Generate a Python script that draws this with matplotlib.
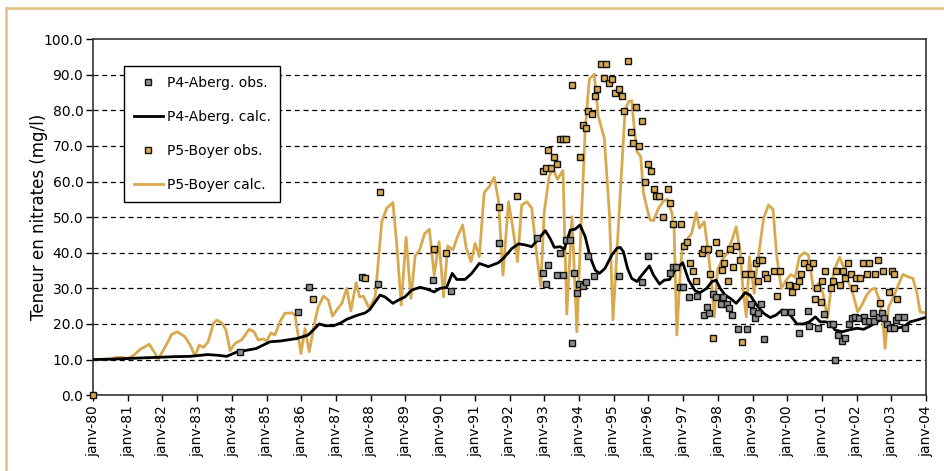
import numpy as np
import matplotlib.pyplot as plt
from matplotlib.lines import Line2D

# -----------data (decimal years, mg/l)
p4_calc_t = [1980.0, 1980.5, 1981.0, 1981.5, 1981.83, 1982.3, 1982.8, 1983.3, 1983.6, 1983.85,
             1984.14, 1984.7, 1985.1, 1985.39, 1985.87, 1986.2, 1986.52, 1986.69, 1986.93, 1987.12,
             1987.31, 1987.6, 1987.84, 1987.98, 1988.13, 1988.27, 1988.41, 1988.64, 1988.8, 1988.99,
             1989.18, 1989.42, 1989.62, 1989.83, 1990.0, 1990.19, 1990.35, 1990.48, 1990.72, 1990.91,
             1991.13, 1991.39, 1991.68, 1991.82, 1992.07, 1992.26, 1992.45, 1992.64, 1992.79, 1993.03,
             1993.17, 1993.29, 1993.46, 1993.58, 1993.75, 1993.89, 1994.03, 1994.18, 1994.32, 1994.47,
             1994.59, 1994.75, 1994.95, 1995.1, 1995.19, 1995.28, 1995.4, 1995.52, 1995.67, 1995.81,
             1996.03, 1996.15, 1996.32, 1996.46, 1996.61, 1996.77, 1996.87, 1996.99, 1997.16, 1997.35,
             1997.49, 1997.68, 1997.83, 1997.95, 1998.07, 1998.21, 1998.36, 1998.53, 1998.69, 1998.79,
             1998.93, 1999.12, 1999.32, 1999.51, 1999.68, 1999.85, 1999.99, 2000.14, 2000.28, 2000.47,
             2000.64, 2000.81, 2000.95, 2001.1, 2001.24, 2001.38, 2001.58, 2001.77, 2002.01, 2002.2,
             2002.39, 2002.59, 2002.78, 2002.97, 2003.16, 2003.35, 2003.54, 2003.74, 2003.98]
p4_calc_v = [10.0, 10.1, 10.3, 10.5, 10.6, 10.8, 10.9, 11.4, 11.2, 10.9,
             12.1, 13.1, 15.0, 15.2, 15.9, 16.9, 20.0, 19.5, 19.5, 20.2,
             21.3, 22.4, 23.1, 24.1, 26.2, 28.1, 27.6, 25.8, 26.7, 27.6,
             29.5, 30.3, 29.8, 29.0, 30.0, 30.3, 34.2, 32.5, 32.5, 34.2,
             37.0, 36.1, 37.2, 38.4, 41.2, 42.5, 42.2, 41.7, 43.4, 46.2,
             44.0, 41.5, 41.7, 41.0, 46.4, 46.6, 47.8, 44.5, 38.9, 35.1,
             34.2, 35.6, 39.4, 41.3, 41.5, 40.3, 35.6, 32.8, 31.9, 33.7,
             36.3, 33.7, 31.2, 32.3, 32.5, 35.1, 36.1, 37.2, 32.3, 29.3,
             28.8, 30.0, 31.9, 32.3, 30.0, 28.1, 27.2, 25.8, 27.6, 28.8,
             28.1, 25.3, 23.0, 21.8, 22.5, 23.9, 23.7, 21.8, 20.0, 20.0,
             20.6, 22.0, 20.6, 20.6, 20.2, 18.3, 17.8, 18.3, 18.8, 18.5,
             19.4, 20.6, 21.6, 19.2, 18.8, 19.2, 20.6, 21.1, 21.8]

p5_calc_t = [1980.0, 1980.49, 1980.68, 1980.87, 1980.97, 1981.16, 1981.35, 1981.62, 1981.79, 1981.88,
             1982.07, 1982.27, 1982.43, 1982.65, 1982.8, 1982.94, 1983.06, 1983.18, 1983.32, 1983.47,
             1983.56, 1983.71, 1983.83, 1983.95, 1984.09, 1984.29, 1984.5, 1984.64, 1984.76, 1984.91,
             1985.0, 1985.13, 1985.24, 1985.4, 1985.53, 1985.73, 1985.82, 1985.99, 1986.11, 1986.23,
             1986.4, 1986.49, 1986.64, 1986.78, 1986.9, 1987.02, 1987.17, 1987.31, 1987.43, 1987.58,
             1987.68, 1987.79, 1987.96, 1988.13, 1988.32, 1988.46, 1988.64, 1988.75, 1988.88, 1989.02,
             1989.16, 1989.28, 1989.41, 1989.55, 1989.69, 1989.83, 1989.97, 1990.1, 1990.22, 1990.37,
             1990.5, 1990.65, 1990.75, 1990.89, 1991.01, 1991.13, 1991.27, 1991.42, 1991.56, 1991.68,
             1991.81, 1991.97, 1992.09, 1992.23, 1992.35, 1992.5, 1992.64, 1992.79, 1992.9, 1993.0,
             1993.14, 1993.25, 1993.38, 1993.54, 1993.65, 1993.8, 1993.94, 1994.06, 1994.18, 1994.3,
             1994.44, 1994.56, 1994.73, 1994.88, 1994.98, 1995.33, 1995.43, 1995.52, 1995.59, 1995.67,
             1995.78, 1995.86, 1995.96, 1996.05, 1996.15, 1996.29, 1996.44, 1996.55, 1996.68, 1996.74,
             1996.82, 1996.92, 1996.99, 1997.11, 1997.25, 1997.38, 1997.47, 1997.61, 1997.73, 1997.83,
             1997.9, 1997.99, 1998.12, 1998.26, 1998.41, 1998.53, 1998.65, 1998.72, 1998.82, 1998.91,
             1999.05, 1999.13, 1999.22, 1999.32, 1999.46, 1999.59, 1999.7, 1999.83, 1999.97, 2000.11,
             2000.23, 2000.35, 2000.49, 2000.61, 2000.76, 2000.9, 2001.03, 2001.16, 2001.29, 2001.41,
             2001.51, 2001.62, 2001.74, 2001.89, 2002.03, 2002.15, 2002.29, 2002.42, 2002.53, 2002.66,
             2002.75, 2002.82, 2002.92, 2003.02, 2003.16, 2003.33, 2003.47, 2003.62, 2003.74, 2003.83,
             2003.98]
p5_calc_v = [10.0, 10.2, 10.6, 10.6, 10.2, 11.1, 12.8, 14.3, 11.7, 10.1,
             13.4, 17.1, 17.8, 16.4, 14.1, 11.0, 14.1, 13.4, 15.0, 20.2,
             21.1, 20.3, 18.3, 12.5, 14.5, 15.6, 18.5, 17.8, 15.5, 15.8,
             15.2, 17.5, 16.9, 20.9, 23.0, 23.1, 22.5, 11.7, 18.7, 12.2,
             21.1, 24.8, 27.8, 26.7, 22.2, 23.9, 25.8, 30.0, 23.7, 31.6,
             27.6, 27.8, 24.4, 27.6, 48.7, 52.5, 54.1, 42.6, 25.3, 44.3,
             27.2, 39.1, 40.8, 45.3, 46.6, 33.7, 43.1, 27.6, 41.9, 40.8,
             44.5, 47.8, 41.5, 37.5, 42.6, 38.9, 56.9, 58.6, 61.2, 54.8,
             33.7, 54.3, 47.3, 37.5, 53.4, 54.3, 52.5, 38.9, 30.6, 51.5,
             61.4, 63.7, 60.6, 63.1, 22.8, 50.1, 17.8, 47.3, 74.5, 88.8,
             90.1, 78.2, 72.2, 50.6, 21.2, 80.1, 82.5, 82.7, 75.4, 68.4,
             67.0, 56.7, 52.5, 49.2, 49.0, 52.5, 54.6, 55.0, 51.1, 47.3,
             16.9, 35.1, 42.2, 43.6, 45.5, 51.3, 46.9, 48.7, 39.8, 30.4,
             22.0, 35.1, 38.0, 39.8, 43.6, 47.3, 39.8, 30.4, 22.0, 38.9,
             28.6, 36.1, 42.6, 49.7, 53.4, 52.2, 38.9, 30.0, 32.3, 33.9,
             33.1, 38.9, 40.0, 39.4, 29.5, 31.4, 28.6, 21.6, 32.3, 36.5,
             38.7, 36.1, 32.3, 28.6, 23.4, 25.3, 28.1, 29.7, 30.0, 26.7,
             21.1, 13.1, 24.8, 26.7, 30.0, 33.9, 33.3, 32.8, 28.6, 23.4,
             23.1]

p4_obs_t = [1984.24, 1985.92, 1986.23, 1987.74, 1988.2, 1989.79, 1990.3, 1991.71, 1992.79, 1992.96,
            1993.06, 1993.12, 1993.36, 1993.44, 1993.55, 1993.63, 1993.73, 1993.8, 1993.87, 1993.94,
            1994.01, 1994.13, 1994.21, 1994.27, 1994.44, 1995.14, 1995.81, 1996.0, 1996.63, 1996.72,
            1996.8, 1996.92, 1997.01, 1997.18, 1997.41, 1997.59, 1997.68, 1997.76, 1997.85, 1997.95,
            1998.1, 1998.16, 1998.26, 1998.33, 1998.41, 1998.58, 1998.84, 1998.95, 1999.01, 1999.08,
            1999.15, 1999.24, 1999.34, 1999.91, 2000.11, 2000.35, 2000.6, 2000.64, 2000.88, 2001.07,
            2001.22, 2001.33, 2001.38, 2001.45, 2001.58, 2001.67, 2001.79, 2001.86, 2001.96, 2002.08,
            2002.2, 2002.24, 2002.37, 2002.47, 2002.51, 2002.63, 2002.73, 2002.79, 2002.88, 2002.97,
            2003.09, 2003.14, 2003.19, 2003.35, 2003.4]
p4_obs_v = [12.2, 23.4, 30.4, 33.1, 31.2, 32.3, 29.3, 42.6, 44.0, 34.4,
            31.2, 36.5, 33.7, 39.8, 33.7, 43.6, 43.6, 14.7, 34.4, 28.8,
            31.1, 30.6, 31.9, 39.2, 33.5, 33.4, 31.9, 39.1, 34.4, 36.1,
            36.1, 30.4, 30.4, 27.5, 27.9, 22.5, 24.8, 23.0, 28.3, 27.5,
            25.5, 27.5, 25.5, 24.4, 22.5, 18.6, 18.6, 25.6, 23.7, 21.6,
            23.0, 25.6, 15.7, 23.4, 23.4, 17.5, 23.6, 19.5, 19.0, 22.8,
            20.0, 20.0, 9.8, 16.9, 15.2, 16.1, 20.0, 21.8, 22.0, 21.8,
            22.0, 20.9, 20.9, 23.0, 20.9, 22.0, 23.0, 21.8, 20.0, 19.0,
            19.0, 21.1, 22.0, 22.0, 19.0]

p5_obs_t = [1980.0, 1986.33, 1987.85, 1988.27, 1989.81, 1990.16, 1991.7, 1992.21, 1992.96, 1993.05,
            1993.12, 1993.2, 1993.29, 1993.37, 1993.44, 1993.54, 1993.63, 1993.8, 1994.03, 1994.11,
            1994.21, 1994.27, 1994.37, 1994.45, 1994.53, 1994.63, 1994.71, 1994.78, 1994.88, 1994.96,
            1995.04, 1995.14, 1995.24, 1995.31, 1995.4, 1995.49, 1995.55, 1995.65, 1995.73, 1995.81,
            1995.89, 1996.0, 1996.07, 1996.15, 1996.22, 1996.32, 1996.41, 1996.56, 1996.63, 1996.72,
            1996.95, 1997.03, 1997.11, 1997.2, 1997.28, 1997.37, 1997.54, 1997.61, 1997.71, 1997.78,
            1997.87, 1997.95, 1998.04, 1998.12, 1998.19, 1998.28, 1998.36, 1998.45, 1998.53, 1998.63,
            1998.7, 1998.77, 1998.95, 1999.11, 1999.17, 1999.2, 1999.27, 1999.37, 1999.43, 1999.61,
            1999.7, 1999.78, 2000.04, 2000.15, 2000.26, 2000.33, 2000.39, 2000.49, 2000.64, 2000.73,
            2000.81, 2000.87, 2000.97, 2001.0, 2001.1, 2001.26, 2001.33, 2001.41, 2001.51, 2001.61,
            2001.67, 2001.75, 2001.84, 2001.93, 2001.99, 2002.09, 2002.17, 2002.29, 2002.37, 2002.54,
            2002.61, 2002.68, 2002.76, 2002.92, 2003.02, 2003.09, 2003.16]
p5_obs_v = [0.0, 27.1, 33.0, 57.0, 41.0, 40.0, 52.9, 55.9, 63.0, 63.9,
            68.9, 63.9, 67.0, 64.9, 72.0, 72.0, 72.0, 87.0, 67.0, 75.9,
            75.0, 79.9, 79.0, 83.9, 85.9, 93.0, 89.0, 93.0, 87.8, 88.9,
            85.0, 85.9, 83.9, 79.9, 93.9, 74.0, 70.9, 80.9, 70.0, 76.9,
            60.0, 64.9, 63.0, 57.9, 55.9, 55.9, 50.0, 57.9, 53.9, 48.0,
            48.0, 42.0, 42.9, 37.0, 34.9, 32.0, 40.0, 41.0, 41.0, 34.0,
            16.1, 42.9, 40.0, 35.1, 37.0, 32.1, 41.0, 36.1, 42.0, 38.0,
            15.0, 34.0, 34.0, 37.0, 32.1, 38.0, 38.0, 34.0, 33.0, 34.9,
            27.9, 34.9, 30.9, 29.0, 30.7, 32.1, 33.9, 37.0, 35.9, 37.0,
            27.0, 30.0, 26.2, 32.0, 34.9, 30.0, 32.0, 34.9, 30.9, 34.9,
            33.0, 37.0, 33.9, 30.0, 33.0, 33.0, 37.0, 33.9, 37.0, 33.9,
            38.0, 26.0, 34.9, 29.0, 34.9, 33.9, 27.0]

years = list(range(1980, 2005))
year_labels = ['janv-%02d' % (y % 100) for y in years]

# -----------figure
gold = '#D8A94E'
fig = plt.figure(figsize=(9.44, 4.71), dpi=100)
ax = fig.add_axes([0.0985, 0.161, 0.8825, 0.756])

ax.plot(p5_calc_t, p5_calc_v, color=gold, lw=2.0, label='P5-Boyer calc.', zorder=2)
ax.plot(p4_calc_t, p4_calc_v, color='black', lw=2.0, label='P4-Aberg. calc.', zorder=3)
ax.plot(p4_obs_t, p4_obs_v, ls='none', marker='s', ms=5, mfc='#8C8C8C', mec='#111111',
        mew=1.0, label='P4-Aberg. obs.', zorder=4)
ax.plot(p5_obs_t, p5_obs_v, ls='none', marker='s', ms=5, mfc=gold, mec='#111111',
        mew=1.0, label='P5-Boyer obs.', zorder=5, clip_on=False)

ax.set_xlim(1980, 2004)
ax.set_ylim(0, 100)
ax.set_xticks(years)
ax.set_xticklabels(year_labels, rotation=90, fontsize=10)
ax.set_yticks(np.arange(0, 101, 10))
ax.set_yticklabels(['%.1f' % v for v in np.arange(0, 101, 10)], fontsize=10)
ax.tick_params(axis='x', direction='out', length=4, width=1, pad=3)
ax.tick_params(axis='y', direction='out', length=5, width=1, pad=2)
ax.set_ylabel('Teneur en nitrates (mg/l)', fontsize=12, labelpad=-3)

for v in range(10, 100, 10):
    ax.axhline(v, color='black', lw=0.9, ls=(0, (4, 3)), zorder=1)
for s in ax.spines.values():
    s.set_color('#333333')
    s.set_linewidth(1.2)

# legend in the original order
h, l = ax.get_legend_handles_labels()
order = [2, 1, 3, 0]
leg = ax.legend([h[i] for i in order], [l[i] for i in order], loc='upper left',
                bbox_to_anchor=(0.037, 0.924), borderaxespad=0, fontsize=10,
                labelspacing=1.45, handlelength=2.1, handletextpad=0.3,
                borderpad=0.7, fancybox=False, framealpha=1, edgecolor='black')
leg.get_frame().set_linewidth(1.0)

# tan border around the figure
fig.add_artist(Line2D([0.006, 0.006], [0.0, 0.983], color='#E2C07E', lw=1.8))
fig.add_artist(Line2D([0.006, 1.0], [0.983, 0.983], color='#E2C07E', lw=1.8))

fig.savefig('out.png', dpi=100)
